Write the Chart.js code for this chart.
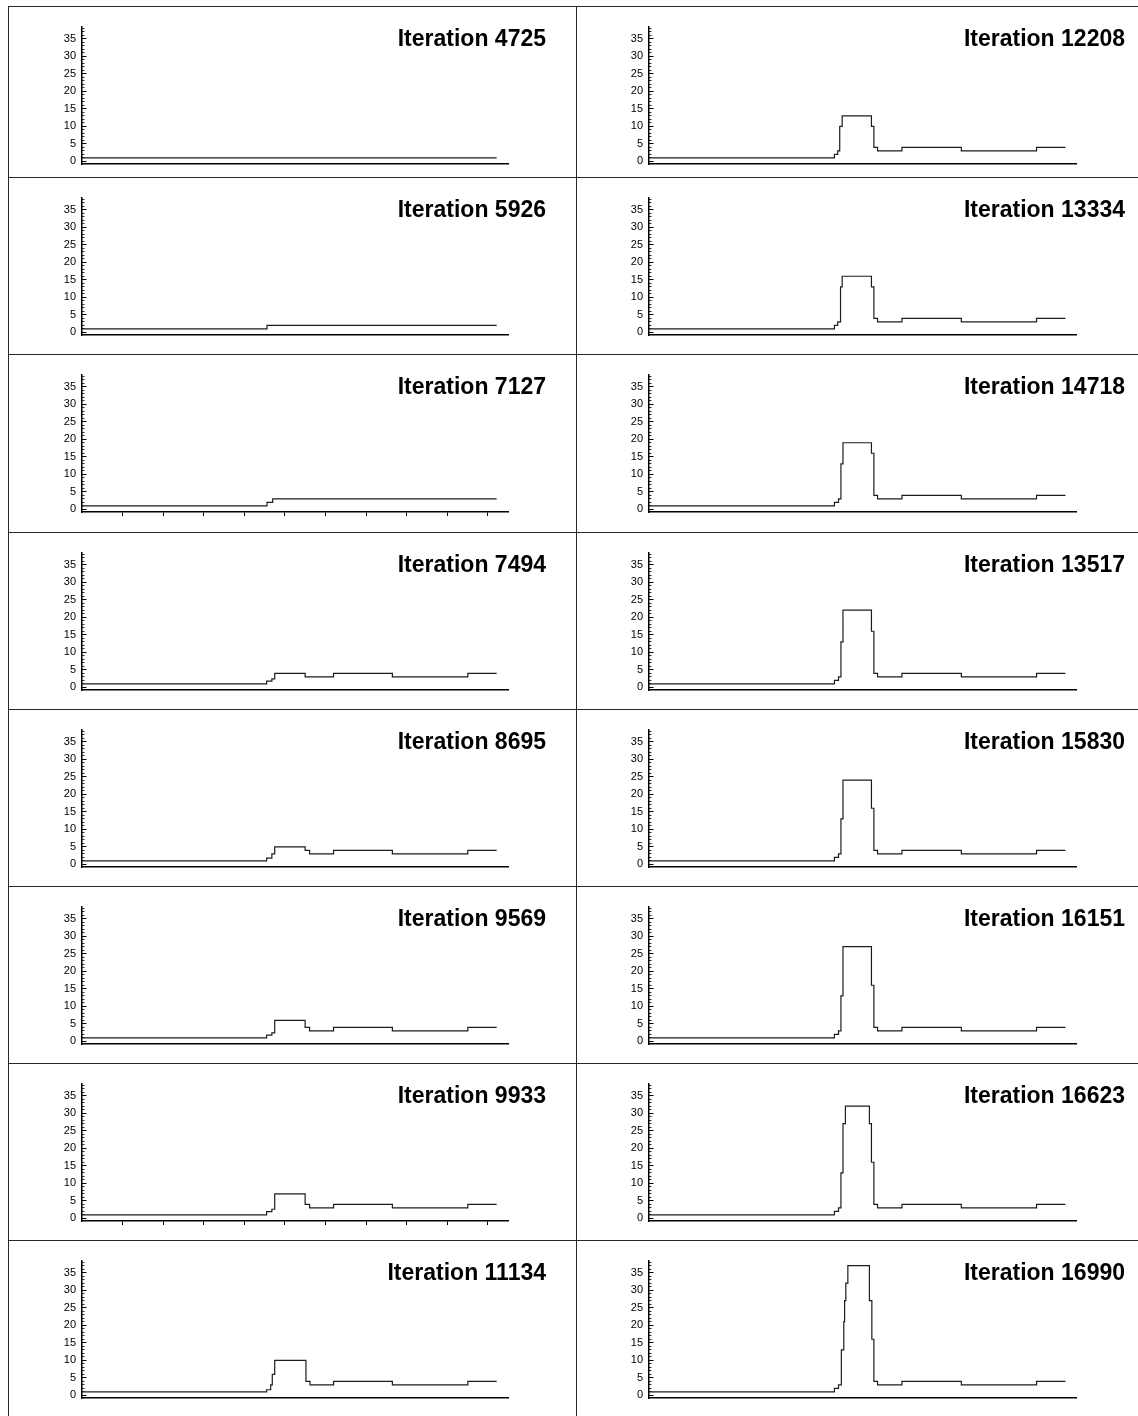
<!DOCTYPE html>
<html>
<head>
<meta charset="utf-8">
<title>Iterations</title>
<script src="https://cdn.jsdelivr.net/npm/chart.js@4.4.1/dist/chart.umd.min.js"></script>
<style>
  html, body { margin: 0; padding: 0; background: #fff; }
  #sheet { position: relative; width: 1138px; height: 1416px; overflow: hidden; }
  #sheet .rule { position: absolute; background: #2a2a2a; }
  #sheet canvas { position: absolute; }
</style>
</head>
<body>
<div id="sheet"></div>
<script>
// step profiles, each pair is [start position, level]; the last pair closes the line
const it4725 = [[0, 1], [102.2, 1]];
const it5926 = [[0, 1], [45.6, 2], [102.2, 2]];
const it7127 = [[0, 1], [45.6, 2], [47, 3], [102.2, 3]];
const it7494 = [[0, 1], [45.5, 1.8], [46.8, 2.4], [47.5, 4], [55, 3], [62, 4], [76.5, 3], [95.1, 4], [102.2, 4]];
const it8695 = [[0, 1], [45.5, 1.8], [46.8, 3], [47.5, 5], [55, 4], [56.1, 3], [62, 4], [76.5, 3], [95.1, 4], [102.2, 4]];
const it9569 = [[0, 1], [45.5, 1.8], [46.8, 2.4], [47.5, 6], [55, 4], [56.1, 3], [62, 4], [76.5, 3], [95.1, 4], [102.2, 4]];
const it9933 = [[0, 1], [45.5, 1.9], [46.8, 2.6], [47.5, 7], [55, 4], [56.1, 3], [62, 4], [76.5, 3], [95.1, 4], [102.2, 4]];
const it11134 = [[0, 1], [45.5, 1.6], [46.5, 3], [46.9, 6], [47.5, 10], [55.2, 4], [56.2, 3], [62, 4], [76.5, 3], [95.1, 4], [102.2, 4]];

const it12208 = [[0, 1], [45.6, 2], [46.4, 3], [46.9, 10], [47.5, 13], [54.7, 10], [55.3, 4], [56.2, 3], [62.2, 4], [76.8, 3], [95.3, 4], [102.4, 4]];
const it13334 = [[0, 1], [45.6, 2], [46.4, 3], [47.1, 13], [47.5, 16], [54.7, 13], [55.3, 4], [56.2, 3], [62.2, 4], [76.8, 3], [95.3, 4], [102.4, 4]];
const it14718 = [[0, 1], [45.6, 2], [46.6, 3], [47.2, 13], [47.7, 19], [54.7, 16], [55.3, 4], [56.2, 3], [62.2, 4], [76.8, 3], [95.3, 4], [102.4, 4]];
const it13517 = [[0, 1], [45.6, 2], [46.6, 3], [47.2, 13], [47.7, 22], [54.7, 16], [55.3, 4], [56.2, 3], [62.2, 4], [76.8, 3], [95.3, 4], [102.4, 4]];
const it15830 = [[0, 1], [45.6, 2], [46.6, 3], [47.2, 13], [47.7, 24], [54.7, 16], [55.3, 4], [56.2, 3], [62.2, 4], [76.8, 3], [95.3, 4], [102.4, 4]];
const it16151 = [[0, 1], [45.6, 2], [46.6, 3], [47.2, 13], [47.7, 27], [54.7, 16], [55.3, 4], [56.2, 3], [62.2, 4], [76.8, 3], [95.3, 4], [102.4, 4]];
const it16623 = [[0, 1], [45.6, 2], [46.6, 3], [47.2, 13], [47.7, 27], [48.3, 32], [54.2, 27], [54.7, 16], [55.3, 4], [56.2, 3], [62.2, 4], [76.8, 3], [95.3, 4], [102.4, 4]];
const it16990 = [[0, 1], [45.6, 2], [46.6, 3], [47.3, 13], [47.9, 21], [48.1, 27], [48.4, 32], [48.9, 37], [54.2, 27], [54.8, 16], [55.3, 4], [56.2, 3], [62.2, 4], [76.8, 3], [95.3, 4], [102.4, 4]];

const LEFT_TITLES = ["Iteration 4725", "Iteration 5926", "Iteration 7127", "Iteration 7494",
  "Iteration 8695", "Iteration 9569", "Iteration 9933", "Iteration 11134"];
const LEFT_SERIES = [it4725, it5926, it7127, it7494, it8695, it9569, it9933, it11134];
const RIGHT_TITLES = ["Iteration 12208", "Iteration 13334", "Iteration 14718", "Iteration 13517",
  "Iteration 15830", "Iteration 16151", "Iteration 16623", "Iteration 16990"];
const RIGHT_SERIES = [it12208, it13334, it14718, it13517, it15830, it16151, it16623, it16990];

const Y_TICKS = [0, 5, 10, 15, 20, 25, 30, 35];
const Y_MINOR = Array.from({ length: 39 }, (_, i) => i);
const X_TICKS = [10, 20, 30, 40, 50, 60, 70, 80, 90, 100];
// only these two panels show tick marks on the bottom axis
const TICKED = ["Iteration 7127", "Iteration 9933"];

const sheet = document.getElementById("sheet");
const ROW_TOPS = [6, 177, 354, 532, 709, 886, 1063, 1240];
const FONT = "'Liberation Sans', Arial, Helvetica, sans-serif";

function rule(left, top, width, height) {
  const d = document.createElement("div");
  d.className = "rule";
  d.style.left = left + "px";
  d.style.top = top + "px";
  d.style.width = width + "px";
  d.style.height = height + "px";
  sheet.appendChild(d);
}

// frame
rule(8, 6, 1130, 1);
rule(8, 6, 1, 1410);
rule(576, 6, 1, 1410);
for (let r = 1; r < 8; r++) rule(8, ROW_TOPS[r], 1130, 1);

const panelTitle = {
  id: "panelTitle",
  afterDraw(chart, args, opts) {
    const ctx = chart.ctx;
    ctx.save();
    ctx.font = "bold 23px " + FONT;
    ctx.fillStyle = "#000";
    ctx.textAlign = "right";
    ctx.textBaseline = "alphabetic";
    ctx.fillText(opts.text, opts.right, opts.baseline);
    ctx.restore();
  }
};

function makePanel(col, row, title, steps) {
  const canvas = document.createElement("canvas");
  canvas.width = 569;
  canvas.height = 177;
  canvas.style.left = (col === 0 ? 0 : 569) + "px";
  canvas.style.top = ROW_TOPS[row] + "px";
  sheet.appendChild(canvas);

  const axisX = col === 0 ? 82 : 80;
  const plotRight = col === 0 ? 508 : 507;
  const titleRight = col === 0 ? 546 : 556;
  const ticked = TICKED.includes(title);

  new Chart(canvas, {
    type: "line",
    data: {
      datasets: [{
        data: steps.map(([x, y]) => ({ x: x, y: y })),
        borderColor: "#1c1c1c",
        borderWidth: 1.2,
        pointRadius: 0,
        stepped: true,
        fill: false
      }]
    },
    options: {
      responsive: false,
      animation: false,
      devicePixelRatio: 1,
      layout: { padding: { top: 20.7, bottom: 19, left: 0, right: 569 - plotRight } },
      plugins: {
        legend: { display: false },
        tooltip: { enabled: false },
        panelTitle: { text: title, right: titleRight, baseline: 40 }
      },
      scales: {
        x: {
          type: "linear",
          min: 0,
          max: 105,
          afterBuildTicks: s => { s.ticks = X_TICKS.map(v => ({ value: v })); },
          afterFit: s => { s.height = 0; },
          ticks: { display: false },
          grid: { drawOnChartArea: false, drawTicks: ticked, tickLength: 4, tickColor: "#000", tickWidth: 1 },
          border: { color: "#000", width: 1.5 }
        },
        y: {
          type: "linear",
          position: "left",
          weight: 0,
          min: -0.75,
          max: 38.4,
          afterBuildTicks: s => { s.ticks = Y_MINOR.map(v => ({ value: v })); },
          afterFit: s => { s.width = 0; },
          ticks: { display: false },
          grid: { drawOnChartArea: false, tickLength: -2.5, tickColor: "#333", tickWidth: 1 },
          border: { display: false }
        },
        yMajor: {
          type: "linear",
          position: "left",
          weight: 1,
          min: -0.75,
          max: 38.4,
          afterBuildTicks: s => { s.ticks = Y_TICKS.map(v => ({ value: v })); },
          afterFit: s => { s.width = axisX; },
          ticks: {
            autoSkip: false,
            padding: 10.5,
            color: "#000",
            font: { family: FONT, size: 11 },
            callback: v => String(v)
          },
          grid: { drawOnChartArea: false, tickLength: -4.5, tickColor: "#000", tickWidth: 1 },
          border: { color: "#000", width: 1.5 }
        }
      }
    },
    plugins: [panelTitle]
  });
}

for (let r = 0; r < 8; r++) {
  makePanel(0, r, LEFT_TITLES[r], LEFT_SERIES[r]);
  makePanel(1, r, RIGHT_TITLES[r], RIGHT_SERIES[r]);
}
</script>
</body>
</html>
